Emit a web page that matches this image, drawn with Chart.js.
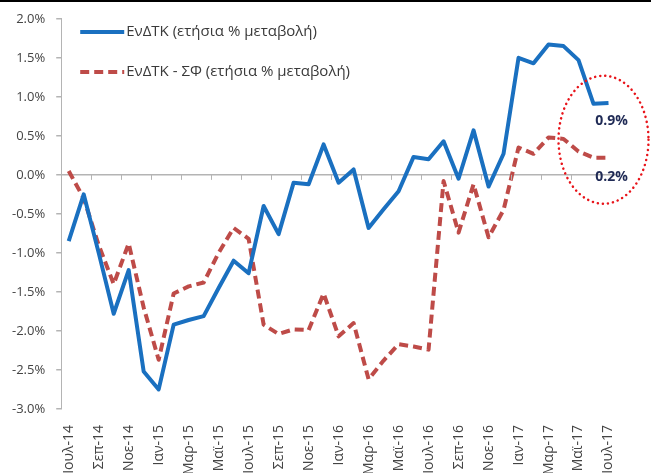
<!DOCTYPE html>
<html>
<head>
<meta charset="utf-8">
<script src="https://cdn.jsdelivr.net/npm/chart.js@4.4.0/dist/chart.umd.min.js"></script>
<style>
  html, body { margin: 0; padding: 0; background: #fff; overflow: hidden; }
  #wrap { position: relative; width: 651px; height: 473px; overflow: hidden; }
  #topline { position: absolute; left: 0; top: 0; width: 651px; height: 2px; background: #000; }
</style>
</head>
<body>
<div id="wrap">
  <canvas id="chart" width="651" height="483"></canvas>
  <div id="topline"></div>
</div>
<script>
// monthly categories, Jul-14 .. Jul-17
const months = [
  'Ιουλ-14', 'Αυγ-14', 'Σεπ-14', 'Οκτ-14', 'Νοε-14', 'Δεκ-14',
  'Ιαν-15', 'Φεβ-15', 'Μαρ-15', 'Απρ-15', 'Μαϊ-15', 'Ιουν-15',
  'Ιουλ-15', 'Αυγ-15', 'Σεπ-15', 'Οκτ-15', 'Νοε-15', 'Δεκ-15',
  'Ιαν-16', 'Φεβ-16', 'Μαρ-16', 'Απρ-16', 'Μαϊ-16', 'Ιουν-16',
  'Ιουλ-16', 'Αυγ-16', 'Σεπ-16', 'Οκτ-16', 'Νοε-16', 'Δεκ-16',
  'Ιαν-17', 'Φεβ-17', 'Μαρ-17', 'Απρ-17', 'Μαϊ-17', 'Ιουν-17',
  'Ιουλ-17'
];

// ΕνΔΤΚ, annual % change
const hicp = [
  -0.85, -0.25, -1.0, -1.78, -1.22, -2.52,
  -2.75, -1.92, -1.86, -1.81, -1.45, -1.1,
  -1.26, -0.4, -0.76, -0.1, -0.12, 0.39,
  -0.1, 0.07, -0.68, -0.44, -0.21, 0.23,
  0.2, 0.43, -0.05, 0.57, -0.15, 0.27,
  1.5, 1.43, 1.67, 1.65, 1.47, 0.91,
  0.92
];

// ΕνΔΤΚ - ΣΦ (constant taxes), annual % change
const hicpCT = [
  0.05, -0.3, -0.9, -1.4, -0.88, -1.7,
  -2.37, -1.52, -1.43, -1.38, -1.0, -0.68,
  -0.82, -1.92, -2.04, -1.98, -1.99, -1.52,
  -2.07, -1.9, -2.62, -2.38, -2.17, -2.2,
  -2.24, -0.08, -0.74, -0.12, -0.8, -0.45,
  0.35, 0.27, 0.48, 0.46, 0.3, 0.22,
  0.22
];

const seriesNames = ['ΕνΔΤΚ (ετήσια % μεταβολή)', 'ΕνΔΤΚ - ΣΦ (ετήσια % μεταβολή)'];
const endLabels = ['0.9%', '0.2%'];
const yMin = -3, yMax = 2, yStep = 0.5;

const FONT = "'Open Sans', sans-serif";
const BLUE = '#1a70c0';
const RED = '#be4b48';
const AXIS = '#b4b4b4';

// legend, end labels, dotted ellipse, small ticks on the zero line
const extras = {
  id: 'extras',
  afterDraw(chart) {
    const { ctx, chartArea, scales } = chart;
    const x = scales.x, y = scales.y;
    ctx.save();

    // tick marks on zero line every 2 months
    const y0 = y.getPixelForValue(0);
    ctx.strokeStyle = AXIS;
    ctx.lineWidth = 1;
    for (let k = 2; k < months.length; k += 2) {
      const px = Math.round(x.getPixelForValue(k - 0.5)) + 0.5;
      ctx.beginPath();
      ctx.moveTo(px, y0);
      ctx.lineTo(px, y0 + 5);
      ctx.stroke();
    }

    // legend
    const lx = chartArea.left + 19, lw = 44;
    const rows = [
      { c: BLUE, dash: [], yy: 32 },
      { c: RED, dash: [9, 5], yy: 72 }
    ];
    ctx.font = '15px ' + FONT;
    ctx.textBaseline = 'middle';
    rows.forEach((r, i) => {
      ctx.beginPath();
      ctx.setLineDash(r.dash);
      ctx.strokeStyle = r.c;
      ctx.lineWidth = 4;
      ctx.moveTo(lx, r.yy);
      ctx.lineTo(lx + lw, r.yy);
      ctx.stroke();
      ctx.setLineDash([]);
      ctx.fillStyle = '#3a3a3a';
      ctx.fillText(seriesNames[i], lx + lw + 2, r.yy);
    });

    // end-of-series labels
    const last = months.length - 1;
    const ex = x.getPixelForValue(last);
    ctx.font = 'bold 14px ' + FONT;
    ctx.fillStyle = '#1f2a55';
    ctx.textAlign = 'center';
    ctx.fillText(endLabels[0], ex + 3, y.getPixelForValue(hicp[last]) + 18);
    ctx.fillText(endLabels[1], ex + 3, y.getPixelForValue(hicpCT[last]) + 19);

    // dotted ellipse
    ctx.beginPath();
    ctx.setLineDash([0.1, 5]);
    ctx.lineCap = 'round';
    ctx.lineWidth = 2.5;
    ctx.strokeStyle = '#e8141a';
    ctx.ellipse(ex - 5, y.getPixelForValue(0.45), 45, 64, 0, 0, Math.PI * 2);
    ctx.stroke();
    ctx.restore();
  }
};

new Chart(document.getElementById('chart'), {
  type: 'line',
  data: {
    labels: months,
    datasets: [
      {
        label: seriesNames[0],
        data: hicp,
        borderColor: BLUE,
        borderWidth: 4,
        pointRadius: 0,
        tension: 0,
        borderJoinStyle: 'round'
      },
      {
        label: seriesNames[1],
        data: hicpCT,
        borderColor: RED,
        borderWidth: 4,
        borderDash: [9, 5],
        pointRadius: 0,
        tension: 0,
        borderJoinStyle: 'round'
      }
    ]
  },
  options: {
    responsive: false,
    animation: false,
    layout: { padding: { top: 14, right: 35, left: 1, bottom: 0 } },
    plugins: {
      legend: { display: false },
      tooltip: { enabled: false }
    },
    scales: {
      x: {
        offset: true,
        grid: { display: false },
        border: { display: false },
        ticks: {
          autoSkip: false,
          minRotation: 90,
          maxRotation: 90,
          padding: 8,
          color: '#444',
          font: { family: FONT, size: 14 },
          callback: (v, i) => (i % 2 === 0 ? months[i] : '')
        }
      },
      y: {
        min: yMin,
        max: yMax,
        border: { display: true, color: AXIS, width: 1 },
        grid: {
          color: c => (c.tick && c.tick.value === 0 ? AXIS : 'rgba(0,0,0,0)'),
          lineWidth: 1.5,
          tickColor: AXIS,
          tickLength: 5
        },
        ticks: {
          stepSize: yStep,
          padding: 11,
          color: '#444',
          font: { family: FONT, size: 13 },
          callback: v => v.toFixed(1) + '%'
        }
      }
    }
  },
  plugins: [extras]
});
</script>
</body>
</html>
